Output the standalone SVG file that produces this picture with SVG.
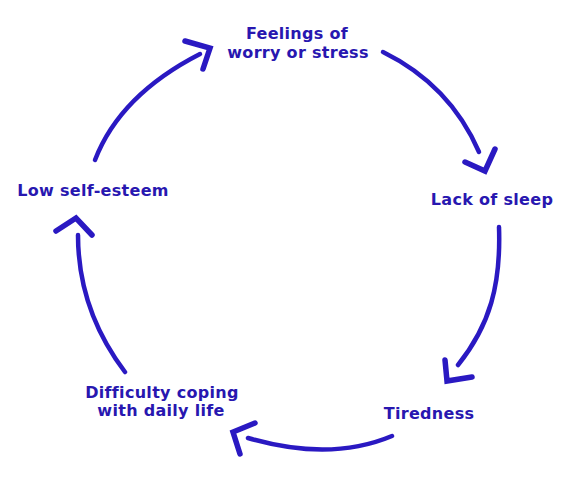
<svg xmlns="http://www.w3.org/2000/svg" width="577" height="477" viewBox="0 0 577 477">
<style>
.lbl{font-family:"DejaVu Sans","Liberation Sans",sans-serif;font-weight:bold;font-size:16px;letter-spacing:0.3px;fill:#2817b0;text-anchor:middle}
.stroke{fill:none;stroke:#2a19c2;stroke-width:4.5;stroke-linecap:round;stroke-linejoin:round}
.head{fill:none;stroke:#2a19c2;stroke-width:5.5;stroke-linecap:round;stroke-linejoin:miter}
</style>
<rect width="577" height="477" fill="#ffffff"/>
<g id="connectors">
<path class="stroke" d="M383,52 Q450,85 479,152"/>
<path class="head" d="M465,162 L485,171 L495,149"/>
<path class="stroke" d="M499,227 C501,285 490,325 458,365"/>
<path class="head" d="M445,360 L447,381 L472,377"/>
<path class="stroke" d="M392,436 Q330,462 248,438"/>
<path class="head" d="M255,423 L233,432 L240,454"/>
<path class="stroke" d="M125,372 Q78,310 78,235"/>
<path class="head" d="M56,231 L76,218 L92,235"/>
<path class="stroke" d="M95,160 Q120,95 200,54"/>
<path class="head" d="M185,41 L210,48 L203,69"/>
</g>
<g id="node-worry"><text class="lbl" x="297" y="39">Feelings of</text><text class="lbl" x="298" y="58">worry or stress</text></g>
<g id="node-sleep"><text class="lbl" x="492" y="205">Lack of sleep</text></g>
<g id="node-tired"><text class="lbl" x="429" y="419">Tiredness</text></g>
<g id="node-coping"><text class="lbl" x="162" y="398">Difficulty coping</text><text class="lbl" x="161" y="416">with daily life</text></g>
<g id="node-esteem"><text class="lbl" x="93" y="196">Low self-esteem</text></g>
</svg>
